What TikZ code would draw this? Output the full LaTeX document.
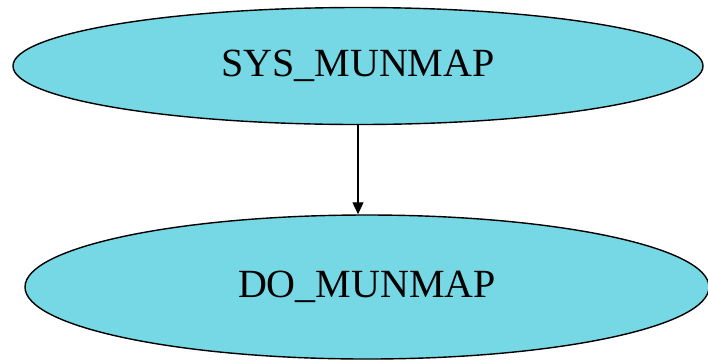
\documentclass[tikz,border=0pt]{standalone}
\usepackage{fontspec}
\setmainfont{Liberation Serif}
\usetikzlibrary{shapes.geometric,arrows.meta}
\definecolor{colcall}{RGB}{118,215,229}
\tikzset{%
       callnode/.style = { ellipse, draw=black, line width=1.4pt, fill=colcall,
                           inner sep=0pt, font=\fontsize{40}{40}\selectfont },
       callarrow/.style = { line width=1.1pt, -{Triangle[length=12pt,width=11pt]} }
}

\begin{document}
\begin{tikzpicture}[x=1pt,y=-1pt]

  \useasboundingbox (0,0) rectangle (708,360);
  \node[callnode, minimum width=690pt, minimum height=117pt] (sysmunmap) at (358,66) {SYS\_MUNMAP};
  \node[callnode, minimum width=684pt, minimum height=144pt] (domunmap)  at (367,287) {DO\_MUNMAP};
  \draw[callarrow] (sysmunmap.south) -- (sysmunmap.south |- domunmap.north);

\end{tikzpicture}
\end{document}
